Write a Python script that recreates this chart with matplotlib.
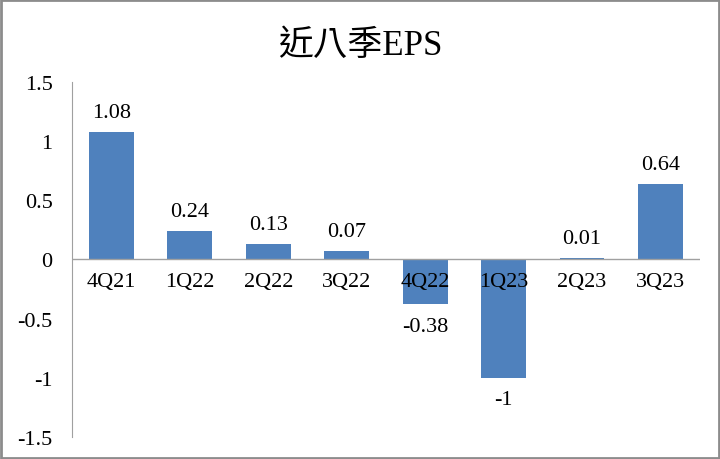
import matplotlib
matplotlib.use("Agg")
import matplotlib.pyplot as plt
from matplotlib.patches import Rectangle

# EPS for the last eight quarters
quarters = ['4Q21', '1Q22', '2Q22', '3Q22', '4Q22', '1Q23', '2Q23', '3Q23']
eps = [1.08, 0.24, 0.13, 0.07, -0.38, -1, 0.01, 0.64]
eps_labels = ['1.08', '0.24', '0.13', '0.07', '-0.38', '-1', '0.01', '0.64']
yticks = [-1.5, -1, -0.5, 0, 0.5, 1, 1.5]
ytick_labels = ['-1.5', '-1', '-0.5', '0', '0.5', '1', '1.5']

fonts = ['Liberation Serif', 'Noto Sans CJK TC', 'DejaVu Sans']
plt.rcParams['font.family'] = fonts

fig = plt.figure(figsize=(7.2, 4.6), dpi=100)
ax = fig.add_axes([0.1, 0.048, 0.872, 0.772])

x = list(range(len(quarters)))
ax.bar(x, eps, width=0.57, color='#4F81BD', zorder=2)

ax.set_xlim(-0.5, len(quarters) - 0.5)
ax.set_ylim(-1.5, 1.5)
ax.set_yticks(yticks)
ax.set_yticklabels(ytick_labels, fontsize=16)
ax.tick_params(axis='y', length=0, pad=14)
ax.set_xticks([])

for s in ['top', 'right', 'bottom']:
    ax.spines[s].set_visible(False)
ax.spines['left'].set_color('#A0A0A0')
ax.axhline(0, color='#A0A0A0', linewidth=1, zorder=3)

# value labels and category labels
for xi, v, lab, q in zip(x, eps, eps_labels, quarters):
    if v >= 0:
        ax.annotate(lab, (xi, v), xytext=(0, 7), textcoords='offset points',
                    ha='center', va='bottom', fontsize=16)
    else:
        ax.annotate(lab, (xi, v), xytext=(0, -9), textcoords='offset points',
                    ha='center', va='top', fontsize=16)
    ax.annotate(q, (xi, 0), xytext=(0, -9), textcoords='offset points',
                ha='center', va='top', fontsize=16, zorder=4)

fig.text(0.5, 0.9, '近八季EPS', ha='center', va='center', fontsize=25)

fig.patches.append(Rectangle((0.002, 0.003), 0.996, 0.994, transform=fig.transFigure,
                             fill=False, edgecolor='#8C8C8C', linewidth=2))

fig.savefig('out.png', dpi=100)
